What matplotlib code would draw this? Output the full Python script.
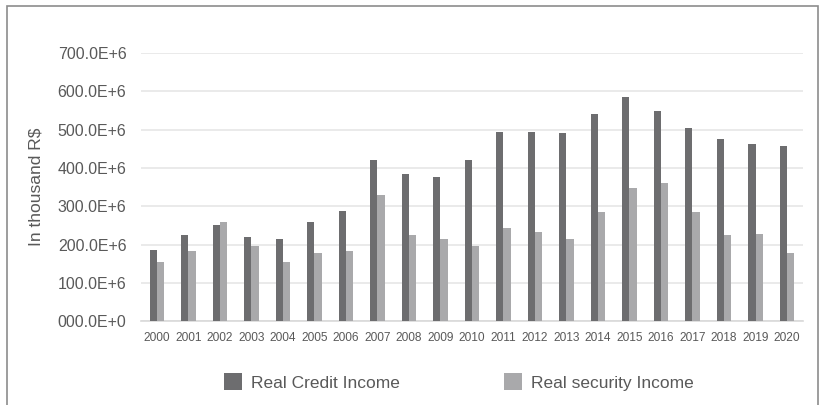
import matplotlib.pyplot as plt
from matplotlib.patches import Rectangle
import numpy as np

plt.rcParams['font.family'] = 'Liberation Sans'

####################################################
years = [str(y) for y in range(2000, 2021)]
credit = [187, 224, 251, 219, 214, 260, 287, 421, 384, 376, 421,
          494, 494, 490, 541, 586, 549, 504, 476, 463, 458]
security = [155, 182, 260, 197, 155, 177, 182, 329, 224, 214, 197,
            242, 232, 214, 284, 348, 362, 284, 224, 228, 177]
ytick_vals = [0, 100, 200, 300, 400, 500, 600, 700]
ytick_labels = ['000.0E+0', '100.0E+6', '200.0E+6', '300.0E+6',
                '400.0E+6', '500.0E+6', '600.0E+6', '700.0E+6']
####################################################

dark = '#6d6d6f'
light = '#a9a9ab'
txt = '#595959'

fig = plt.figure(figsize=(8.2, 4.05), dpi=100)
ax = fig.add_axes([0.172, 0.207, 0.807, 0.662])

x = np.arange(len(years))
w = 0.23
ax.bar(x - w / 2, np.array(credit) * 1e6, w, color=dark, label='Real Credit Income', zorder=3)
ax.bar(x + w / 2, np.array(security) * 1e6, w, color=light, label='Real security Income', zorder=3)

ax.set_xlim(-0.5, len(years) - 0.5)
ax.set_ylim(0, 700e6)
ax.set_yticks([v * 1e6 for v in ytick_vals])
ax.set_yticklabels(ytick_labels, fontsize=11.5, color=txt)
ax.set_xticks(x)
ax.set_xticklabels(years, fontsize=8.6, color=txt)
ax.tick_params(axis='y', length=0, pad=10.5)
ax.tick_params(axis='x', length=0, pad=8)
ax.grid(axis='y', color='#e6e6e6', linewidth=1.2, zorder=0)
for s in ['top', 'right', 'left']:
    ax.spines[s].set_visible(False)
ax.spines['bottom'].set_color('#d9d9d9')
ax.spines['bottom'].set_linewidth(1.2)
ax.set_ylabel('In thousand R$', fontsize=12.5, color=txt, labelpad=10)

leg = fig.legend(loc='center', bbox_to_anchor=(0.56, 0.057), ncol=2, frameon=False,
                 fontsize=12.5, handlelength=1.04, handleheight=1.1, columnspacing=6.0,
                 handletextpad=0.52)
for t in leg.get_texts():
    t.set_color(txt)

# frame around the figure
fig.patches.append(Rectangle((0.008, -0.02), 0.99, 1.005, transform=fig.transFigure,
                             fill=False, edgecolor='#8c8c8c', linewidth=1.2))

fig.savefig('out.png', dpi=100)
